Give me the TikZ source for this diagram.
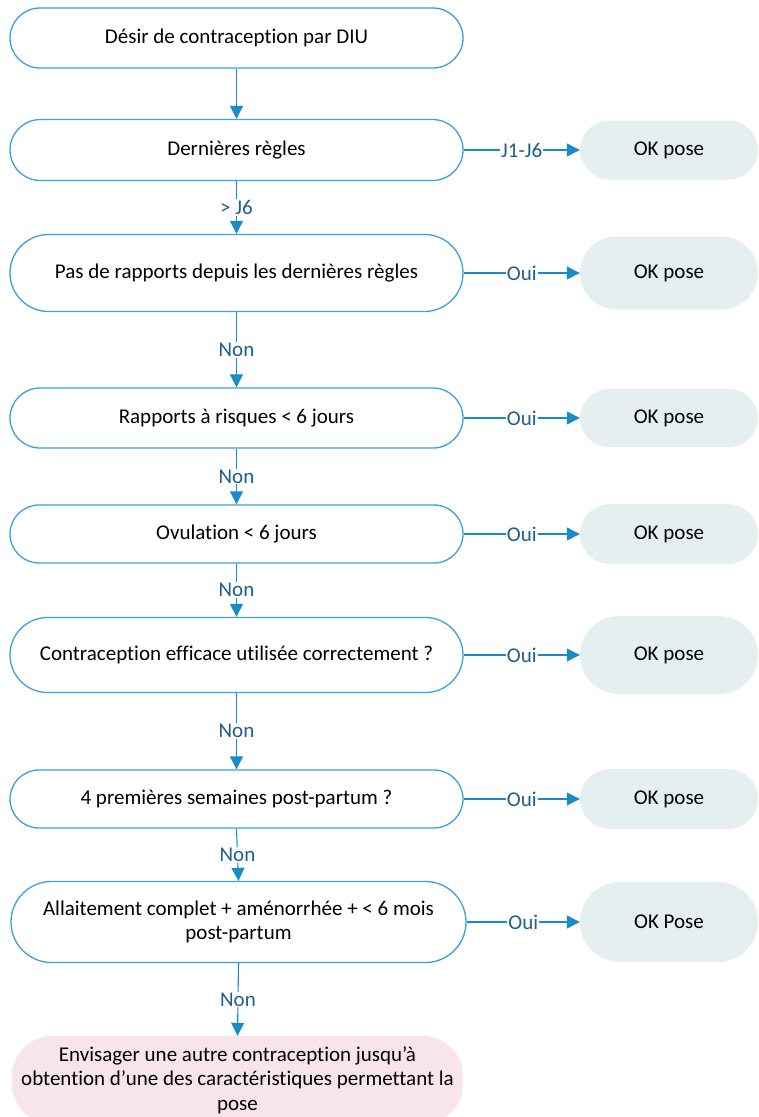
\documentclass[tikz,border=0pt]{standalone}
\usepackage{fontspec}
\setmainfont[Ligatures={NoCommon}]{Carlito}
\usetikzlibrary{shapes.misc,arrows.meta}
\definecolor{linec}{RGB}{27,139,200}
\definecolor{boxc}{RGB}{58,160,224}
\definecolor{labc}{RGB}{31,95,138}
\definecolor{okfill}{RGB}{230,239,240}
\definecolor{pinkfill}{RGB}{248,229,233}
\begin{document}
\begin{tikzpicture}[x=1pt,y=-1pt,
 every node/.style={font=\fontsize{21}{24.5}\selectfont},
 mainbox/.style={rounded rectangle, draw=boxc, line width=1.3pt, minimum width=453pt, align=center, inner sep=0pt},
 okbox/.style={rounded rectangle, fill=okfill, minimum width=178pt, inner sep=0pt},
 endbox/.style={rectangle, rounded corners=40pt, fill=pinkfill, minimum width=451pt, align=center, inner sep=0pt},
 conn/.style={draw=linec, line width=1.1pt, -{Triangle[width=13pt,length=13pt]}},
 lab/.style={fill=white, text=labc, inner sep=1pt}
]
\useasboundingbox (0,0) rectangle (759,1117);
\node[mainbox, minimum height=60pt] (b1) at (236.5,38) {Désir de contraception par DIU};
\node[mainbox, minimum height=61pt] (b2) at (236.5,150) {Dernières règles};
\node[mainbox, minimum height=77pt] (b3) at (236.5,273) {Pas de rapports depuis les dernières règles};
\node[mainbox, minimum height=60pt] (b4) at (236.5,418) {Rapports à risques < 6 jours};
\node[mainbox, minimum height=58pt] (b5) at (236.5,534) {Ovulation < 6 jours};
\node[mainbox, minimum height=75pt] (b6) at (236.5,655) {Contraception efficace utilisée correctement ?};
\node[mainbox, minimum height=58pt] (b7) at (236.5,799) {4 premières semaines post-partum ?};
\node[mainbox, minimum height=81pt, minimum width=455pt] (b8) at (238.5,922) {Allaitement complet + aménorrhée + < 6 mois\\post-partum};
\node[endbox, minimum height=88pt] (b9) at (237.5,1080) {Envisager une autre contraception jusqu’à\\obtention d’une des caractéristiques permettant la\\pose};

\node[okbox, minimum height=59pt] (o2) at (669,150) {OK pose};
\node[okbox, minimum height=73pt] (o3) at (669,273) {OK pose};
\node[okbox, minimum height=58pt] (o4) at (669,418) {OK pose};
\node[okbox, minimum height=60pt] (o5) at (669,534) {OK pose};
\node[okbox, minimum height=78pt] (o6) at (669,655) {OK pose};
\node[okbox, minimum height=60pt] (o7) at (669,799) {OK pose};
\node[okbox, minimum height=80pt] (o8) at (669,922) {OK Pose};

\draw[conn] (b1.south) -- (b2.north);
\draw[conn] (b2.south) -- node[lab]{> J6} (b3.north);
\draw[conn] (b3.south) -- node[lab]{Non} (b4.north);
\draw[conn] (b4.south) -- node[lab]{Non} (b5.north);
\draw[conn] (b5.south) -- node[lab]{Non} (b6.north);
\draw[conn] (b6.south) -- node[lab]{Non} (b7.north);
\draw[conn] (b7.south) -- node[lab]{Non} (b8.north);
\draw[conn] (b8.south) -- node[lab]{Non} (b9.north);

\draw[conn] (b2.east) -- node[lab]{J1-J6} (o2.west);
\draw[conn] (b3.east) -- node[lab]{Oui} (o3.west);
\draw[conn] (b4.east) -- node[lab]{Oui} (o4.west);
\draw[conn] (b5.east) -- node[lab]{Oui} (o5.west);
\draw[conn] (b6.east) -- node[lab]{Oui} (o6.west);
\draw[conn] (b7.east) -- node[lab]{Oui} (o7.west);
\draw[conn] (b8.east) -- node[lab]{Oui} (o8.west);
\end{tikzpicture}
\end{document}
